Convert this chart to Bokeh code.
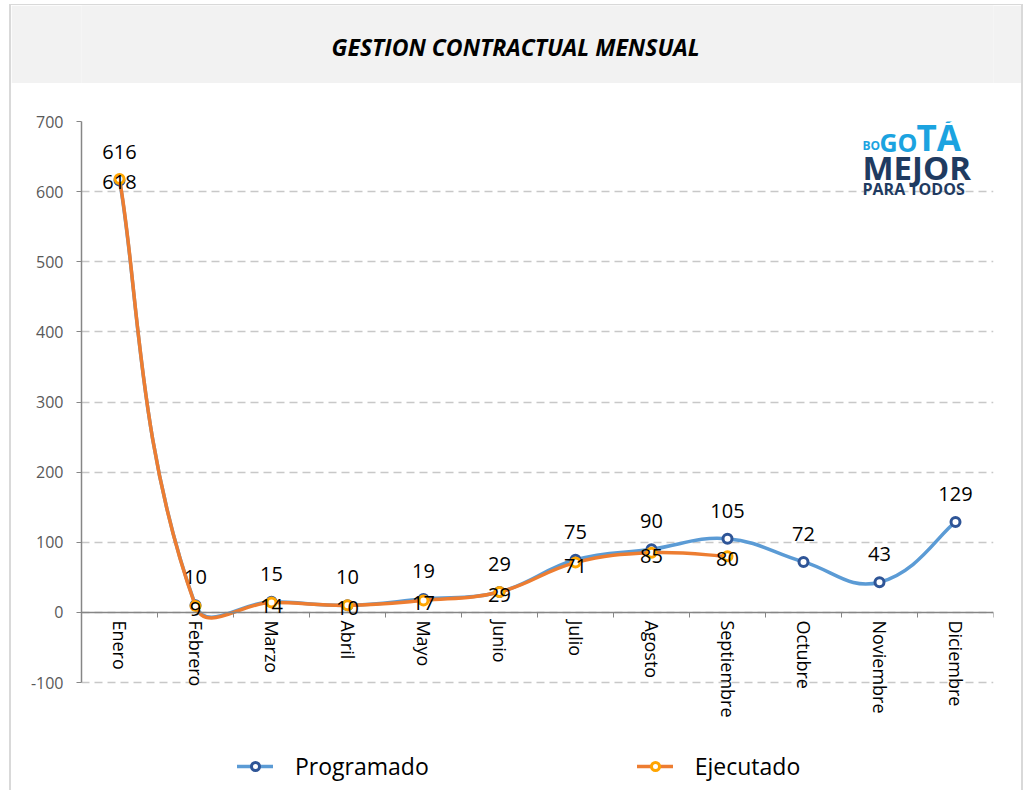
import math
from bokeh.plotting import figure
from bokeh.models import (Range1d, LinearAxis, FixedTicker, Label, LabelSet,
                          ColumnDataSource, Legend, LegendItem)
from bokeh.layouts import column
from bokeh.embed import file_html
from bokeh.resources import INLINE
from bokeh.core.properties import value

# ---------------- data ----------------
TITLE = "GESTION CONTRACTUAL MENSUAL"
months = ["Enero", "Febrero", "Marzo", "Abril", "Mayo", "Junio", "Julio",
          "Agosto", "Septiembre", "Octubre", "Noviembre", "Diciembre"]
programado = [616, 10, 15, 10, 19, 29, 75, 90, 105, 72, 43, 129]
ejecutado = [618, 9, 14, 10, 17, 29, 71, 85, 80]
series_names = ["Programado", "Ejecutado"]
y_ticks = [-100, 0, 100, 200, 300, 400, 500, 600, 700]
y_tick_labels = {t: str(t) for t in y_ticks}

# ---------------- styles ----------------
FONT = "Open Sans"
PROG_LINE = "#5B9BD5"
PROG_MARK = "#2F5597"
EJEC_LINE = "#ED7D31"
EJEC_MARK = "#FFA500"
AXIS_GRAY = "#868686"

W = 1010
TITLE_H = 78
MAIN_H = 707
B_LEFT, B_RIGHT, B_TOP = 70, 28, 38
AXIS_SPAN_PX = 561            # pixels from y=700 down to y=-100
frame_w = W - B_LEFT - B_RIGHT
frame_h = MAIN_H - B_TOP
Y_MIN, Y_MAX = y_ticks[0], y_ticks[-1]
PX_X = frame_w / len(months)               # pixels per category
PX_Y = AXIS_SPAN_PX / (Y_MAX - Y_MIN)      # pixels per unit
Y_VIEW_MIN = Y_MAX - frame_h / PX_Y        # frame extends below -100 for labels/legend


def smooth_segments(values):
    """Excel-like smoothed line: cubic Bezier control points from the data."""
    n = len(values)
    pts = [((i + 0.5) * PX_X, v * PX_Y) for i, v in enumerate(values)]

    def sub(a, b):
        return (a[0] - b[0], a[1] - b[1])

    def norm(a):
        return math.hypot(a[0], a[1])

    seg = dict(x0=[], y0=[], x1=[], y1=[], cx0=[], cy0=[], cx1=[], cy1=[])

    def ctrl(i, forward):
        j = i + 1 if forward else i - 1
        d = norm(sub(pts[j], pts[i]))
        if 0 < i < n - 1:
            t = sub(pts[i + 1], pts[i - 1])
            dp = norm(sub(pts[i], pts[i - 1]))
            dn = norm(sub(pts[i + 1], pts[i]))
            dist = 0.5 * norm(t) * d / (dp + dn)
        else:
            t = sub(pts[j], pts[i]) if forward else sub(pts[i], pts[j])
            dist = 0.25 * d
        dist = min(dist, 0.4 * d)
        L = norm(t) or 1.0
        sgn = 1 if forward else -1
        return (pts[i][0] + sgn * t[0] / L * dist, pts[i][1] + sgn * t[1] / L * dist)

    for i in range(n - 1):
        c0 = ctrl(i, True)
        c1 = ctrl(i + 1, False)
        seg["x0"].append(pts[i][0] / PX_X); seg["y0"].append(pts[i][1] / PX_Y)
        seg["x1"].append(pts[i + 1][0] / PX_X); seg["y1"].append(pts[i + 1][1] / PX_Y)
        seg["cx0"].append(c0[0] / PX_X); seg["cy0"].append(c0[1] / PX_Y)
        seg["cx1"].append(c1[0] / PX_X); seg["cy1"].append(c1[1] / PX_Y)
    return seg


# ---------------- title band ----------------
tf = figure(width=W, height=TITLE_H, x_range=(0, 1), y_range=(0, 1),
            x_axis_location=None, y_axis_location=None,
            toolbar_location=None, output_backend="svg", min_border=0,
            background_fill_color="#F2F2F2", border_fill_color="#F2F2F2",
            outline_line_color=None)
tf.grid.visible = False
tf.add_layout(Label(x=0.476, y=0.47, text=TITLE, text_align="center",
                    text_baseline="middle", text_font=FONT,
                    text_font_size="23px", text_font_style="bold italic",
                    text_color="black"))

# ---------------- main chart ----------------
p = figure(width=W, height=MAIN_H, x_range=Range1d(0, len(months)),
           y_range=Range1d(Y_VIEW_MIN, Y_MAX), x_axis_location=None,
           toolbar_location=None, output_backend="svg",
           min_border_left=B_LEFT, min_border_right=B_RIGHT,
           min_border_top=B_TOP, min_border_bottom=0,
           outline_line_color=None, background_fill_color="white",
           border_fill_color="white")
p.xgrid.visible = False

p.yaxis.ticker = FixedTicker(ticks=y_ticks)
p.yaxis.bounds = (Y_MIN, Y_MAX)
p.yaxis.major_label_overrides = y_tick_labels
p.yaxis.axis_line_color = AXIS_GRAY
p.yaxis.axis_line_width = 1.5
p.yaxis.major_tick_line_color = AXIS_GRAY
p.yaxis.major_tick_out = 5
p.yaxis.major_tick_in = 0
p.yaxis.minor_tick_line_color = None
p.yaxis.major_label_text_font = FONT
p.yaxis.major_label_text_font_size = "16px"
p.yaxis.major_label_text_color = "#595959"
p.yaxis.major_label_standoff = 13

p.ygrid.ticker = FixedTicker(ticks=y_ticks)
p.ygrid.grid_line_color = "#C8C8C8"
p.ygrid.grid_line_dash = "8 5"
p.ygrid.grid_line_width = 1.5

tick_axis = LinearAxis(ticker=FixedTicker(ticks=list(range(len(months) + 1))),
                       fixed_location=0, axis_line_color=AXIS_GRAY,
                       axis_line_width=1.5,
                       major_tick_line_color=AXIS_GRAY, major_tick_out=5,
                       major_tick_in=0, minor_tick_line_color=None,
                       major_label_overrides={i: "" for i in range(len(months) + 1)},
                       major_label_text_font_size="1px")
label_axis = LinearAxis(ticker=FixedTicker(ticks=[i + 0.5 for i in range(len(months))]),
                        fixed_location=0, axis_line_color=None,
                        major_tick_line_color=None, minor_tick_line_color=None,
                        major_tick_out=0, major_tick_in=0,
                        major_label_orientation="vertical",
                        major_label_overrides={i + 0.5: m for i, m in enumerate(months)},
                        major_label_text_font=FONT,
                        major_label_text_font_size="18px",
                        major_label_text_color="black",
                        major_label_standoff=8)
p.add_layout(label_axis, "below")
p.add_layout(tick_axis, "below")

# lines
prog_seg = ColumnDataSource(smooth_segments(programado))
ejec_seg = ColumnDataSource(smooth_segments(ejecutado))
prog_line = p.bezier(x0="x0", y0="y0", x1="x1", y1="y1", cx0="cx0", cy0="cy0",
                     cx1="cx1", cy1="cy1", source=prog_seg, line_color=PROG_LINE,
                     line_width=3.5, line_cap="round")

prog_src = ColumnDataSource(dict(x=[i + 0.5 for i in range(len(programado))],
                                 y=programado,
                                 lbl=[str(v) for v in programado]))
ejec_src = ColumnDataSource(dict(x=[i + 0.5 for i in range(len(ejecutado))],
                                 y=ejecutado,
                                 lbl=[str(v) for v in ejecutado]))
prog_pts = p.scatter("x", "y", source=prog_src, marker="circle", size=9,
                     fill_color="white", line_color=PROG_MARK, line_width=3)

ejec_line = p.bezier(x0="x0", y0="y0", x1="x1", y1="y1", cx0="cx0", cy0="cy0",
                     cx1="cx1", cy1="cy1", source=ejec_seg, line_color=EJEC_LINE,
                     line_width=3.5, line_cap="round")
ejec_pts = p.scatter("x", "y", source=ejec_src, marker="circle", size=9,
                     fill_color="white", line_color=EJEC_MARK, line_width=3)

p.add_layout(LabelSet(x="x", y="y", text="lbl", source=prog_src,
                      text_align="center", text_baseline="middle",
                      y_offset=28, text_font=value(FONT), text_font_size="20px",
                      text_color="black"))
p.add_layout(LabelSet(x="x", y="y", text="lbl", source=ejec_src,
                      text_align="center", text_baseline="middle",
                      y_offset=-3, text_font=value(FONT), text_font_size="20px",
                      text_color="black"))

# logo (text); x from frame left, y = distance of the cap centre below frame top
LOGO_BLUE = "#1BA3E0"
LOGO_NAVY = "#1F3B61"
for txt, x, dy, size, col in [("BO", 781, 24, "12px", LOGO_BLUE),
                              ("GO", 798, 20, "25px", LOGO_BLUE),
                              ("TÁ", 835, 16, "35px", LOGO_BLUE),
                              ("MEJOR", 781, 46, "33px", LOGO_NAVY),
                              ("PARA TODOS", 781, 67, "16px", LOGO_NAVY)]:
    p.add_layout(Label(x=x, y=frame_h - dy, x_units="screen", y_units="screen",
                       text=txt, text_font=FONT, text_font_size=size,
                       text_font_style="bold", text_color=col,
                       text_baseline="middle", text_align="left"))

legend = Legend(items=[LegendItem(label=series_names[0], renderers=[prog_line, prog_pts]),
                       LegendItem(label=series_names[1], renderers=[ejec_line, ejec_pts])],
                orientation="horizontal", location=(156, 8),
                border_line_color=None, background_fill_alpha=0,
                padding=0, margin=0, spacing=208, glyph_width=36,
                glyph_height=20, label_standoff=22,
                label_text_font=FONT, label_text_font_size="23px",
                label_text_color="black")
p.add_layout(legend)

layout = column(tf, p, spacing=0, margin=(4, 0, 0, 9),
                styles={"border-left": "2px solid #D9D9D9",
                        "border-right": "2px solid #D9D9D9",
                        "border-top": "1px solid #D9D9D9"})

open("out.html", "w").write(file_html(layout, INLINE))
